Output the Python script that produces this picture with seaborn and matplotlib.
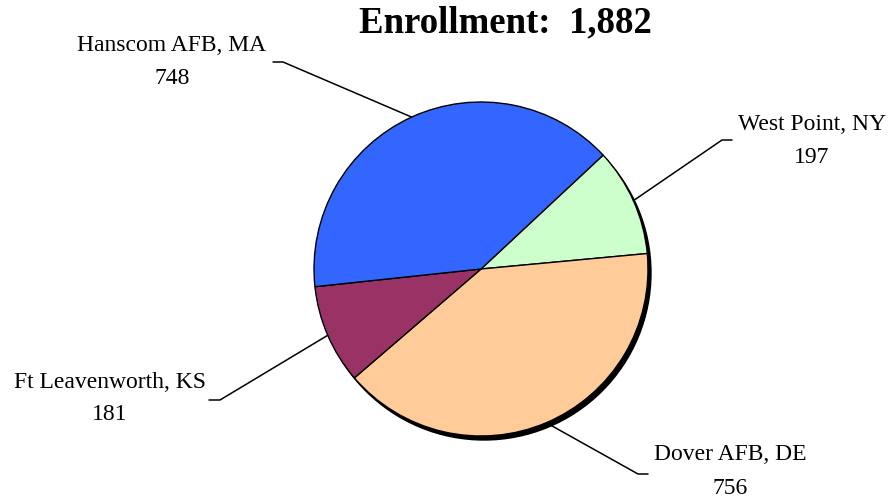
import numpy as np
import seaborn as sns
import matplotlib.pyplot as plt
from matplotlib.patches import Circle

# Data (clockwise order starting at upper right)
sites = ["West Point, NY", "Dover AFB, DE", "Ft Leavenworth, KS", "Hanscom AFB, MA"]
enrollment = [197, 756, 181, 748]
colors = ["#CCFFCC", "#FFCC99", "#993366", "#3366FF"]
total = sum(enrollment)

# Layout (pixel coordinates, y from bottom)
CENTER = (481, 230)
RADIUS = 167
START = 43
label_pos = {
    "West Point, NY": (812, 375),
    "Dover AFB, DE": (730, 44),
    "Ft Leavenworth, KS": (110, 117),
    "Hanscom AFB, MA": (172, 454),
}
elbows = {
    "West Point, NY": ((722, 359), (732, 359)),
    "Dover AFB, DE": ((638, 25), (648, 25)),
    "Ft Leavenworth, KS": ((220, 99), (209, 99)),
    "Hanscom AFB, MA": ((283, 437), (273, 437)),
}

sns.set_theme(style="white")
plt.rcParams["font.family"] = ["Liberation Serif", "DejaVu Serif"]
plt.rcParams["text.color"] = "black"

fig = plt.figure(figsize=(8.92, 4.99), dpi=100)
ax = fig.add_axes([0, 0, 1, 1])

# Shadow
ax.add_patch(Circle((CENTER[0] + 3, CENTER[1] - 4), RADIUS, color="black", zorder=0))

wedges, _ = ax.pie(
    enrollment,
    colors=colors,
    startangle=START,
    counterclock=False,
    center=CENTER,
    radius=RADIUS,
    wedgeprops=dict(edgecolor="black", linewidth=1.0),
)
for w in wedges:
    w.set_zorder(1)

ax.set_xlim(0, 892)
ax.set_ylim(0, 499)
ax.set_aspect("equal")
ax.axis("off")

# Labels with leader lines from each wedge's mid-angle
for w, site, val in zip(wedges, sites, enrollment):
    mid = np.deg2rad((w.theta1 + w.theta2) / 2)
    px = CENTER[0] + RADIUS * np.cos(mid)
    py = CENTER[1] + RADIUS * np.sin(mid)
    (ex, ey), (hx, hy) = elbows[site]
    ax.plot([px, ex, hx], [py, ey, hy], color="black", lw=1.1, zorder=2)
    lx, ly = label_pos[site]
    ax.text(lx, ly, site, ha="center", va="center", fontsize=17, color="black")
    ax.text(lx, ly - 33, str(val), ha="center", va="center", fontsize=17, color="black")

ax.text(505, 476, f"Enrollment:  {total:,}", ha="center", va="center",
        fontsize=26.5, fontweight="bold", color="black")

plt.savefig("out.png", dpi=100)
plt.close()
